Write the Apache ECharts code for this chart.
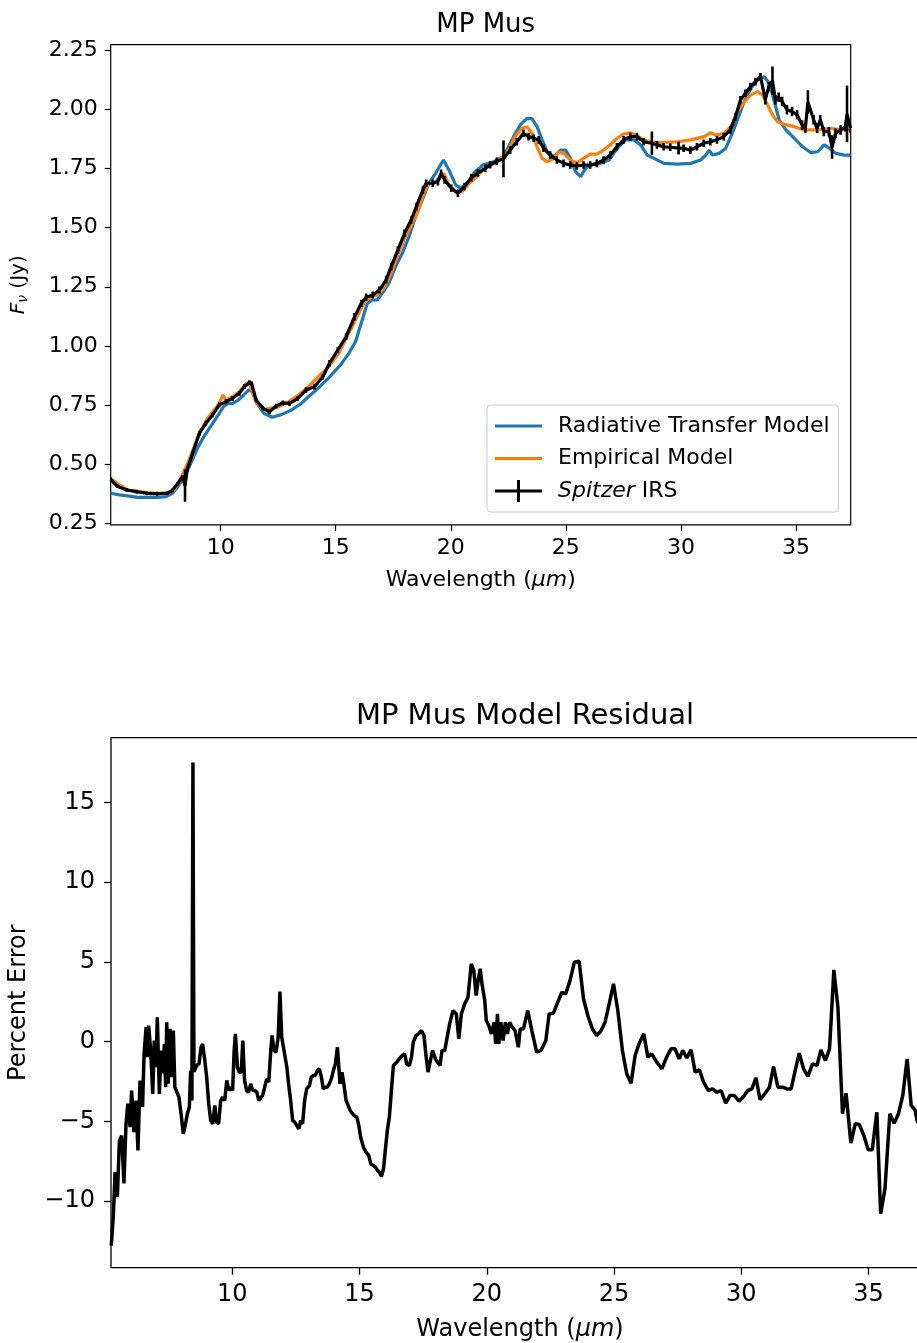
<!DOCTYPE html>
<html>
<head>
<meta charset="utf-8">
<script src="https://cdn.jsdelivr.net/npm/echarts@6/dist/echarts.min.js"></script>
<style>
html,body{margin:0;padding:0;background:#fff;}
#c{width:917px;height:1343px;}
</style>
</head>
<body>
<div id="c"></div>
<script>
// ---------- Top panel: MP Mus spectrum ----------
const rtLam = [5.22,5.6,5.96,6.39,6.83,7.26,7.63,7.91,8.14,8.43,8.73,9.02,9.31,9.6,9.9,10.12,10.33,10.55,10.77,11.0,11.21,11.36,11.58,11.87,12.24,12.6,13.03,13.47,13.9,14.34,14.77,15.21,15.57,15.86,16.15,16.37,16.58,16.8,17.02,17.31,17.6,17.89,18.18,18.47,18.76,19.05,19.34,19.68,19.92,20.21,20.42,20.71,21.0,21.42,21.86,22.29,22.73,23.02,23.31,23.53,23.75,23.97,24.19,24.48,24.77,24.99,25.2,25.42,25.64,25.86,26.08,26.51,26.88,27.24,27.6,27.96,28.25,28.54,28.83,29.27,29.85,30.43,30.86,31.08,31.23,31.37,31.66,31.95,32.17,32.46,32.75,33.04,33.33,33.62,33.84,34.06,34.27,34.56,34.93,35.29,35.65,35.94,36.23,36.45,36.74,37.1,37.38];
const rtFlux = [0.378,0.371,0.367,0.361,0.361,0.361,0.364,0.378,0.406,0.448,0.511,0.574,0.624,0.666,0.709,0.744,0.758,0.758,0.772,0.793,0.814,0.807,0.758,0.716,0.699,0.709,0.727,0.755,0.793,0.831,0.873,0.92,0.969,1.018,1.11,1.18,1.194,1.194,1.222,1.265,1.335,1.391,1.461,1.546,1.617,1.687,1.729,1.785,1.743,1.68,1.666,1.687,1.73,1.765,1.778,1.799,1.884,1.933,1.961,1.96,1.926,1.87,1.82,1.799,1.827,1.827,1.792,1.736,1.715,1.75,1.764,1.771,1.785,1.835,1.87,1.87,1.849,1.806,1.792,1.771,1.768,1.771,1.785,1.806,1.827,1.806,1.813,1.835,1.884,1.955,2.032,2.088,2.123,2.137,2.109,2.032,1.955,1.912,1.877,1.841,1.816,1.82,1.849,1.835,1.813,1.806,1.806];

const empLam = [5.22,5.6,5.96,6.39,6.83,7.26,7.68,7.98,8.27,8.56,8.85,9.14,9.43,9.72,9.94,10.09,10.23,10.52,10.81,11.1,11.25,11.39,11.58,11.87,12.12,12.53,12.95,13.39,13.81,14.25,14.7,15.13,15.57,15.93,16.22,16.51,16.8,17.09,17.38,17.67,17.96,18.25,18.54,18.83,19.05,19.41,19.7,19.92,20.21,20.5,20.8,21.08,21.42,22.0,22.44,22.8,23.09,23.31,23.53,23.75,23.97,24.19,24.48,24.7,24.91,25.2,25.48,25.77,26.06,26.35,26.64,26.93,27.22,27.51,27.8,28.09,28.38,28.83,29.27,29.85,30.43,31.0,31.3,31.52,31.88,32.17,32.46,32.75,33.04,33.33,33.55,33.77,33.98,34.2,34.49,34.93,35.36,35.94,36.52,36.96,37.38];
const empFlux = [0.441,0.413,0.392,0.385,0.381,0.378,0.378,0.392,0.441,0.504,0.574,0.645,0.695,0.73,0.758,0.793,0.772,0.786,0.807,0.842,0.845,0.8,0.758,0.73,0.737,0.744,0.765,0.793,0.828,0.87,0.913,0.969,1.054,1.124,1.18,1.208,1.215,1.243,1.3,1.377,1.447,1.503,1.56,1.645,1.687,1.694,1.729,1.68,1.652,1.652,1.687,1.71,1.745,1.778,1.813,1.884,1.919,1.926,1.898,1.841,1.792,1.778,1.792,1.82,1.813,1.785,1.773,1.792,1.81,1.81,1.827,1.849,1.877,1.895,1.9,1.888,1.87,1.859,1.86,1.862,1.87,1.884,1.9,1.89,1.898,1.926,1.99,2.032,2.06,2.074,2.06,2.018,1.976,1.947,1.936,1.926,1.912,1.912,1.919,1.912,1.912];

const irsLam = [5.22,5.5,5.92,6.35,6.79,7.24,7.68,7.9,8.12,8.34,8.45,8.55,8.78,9.07,9.36,9.65,9.94,10.23,10.52,10.81,11.03,11.25,11.35,11.54,11.83,12.12,12.41,12.7,12.99,13.35,13.71,14.08,14.44,14.73,15.09,15.45,15.82,16.11,16.32,16.61,16.9,17.19,17.41,17.7,17.99,18.28,18.5,18.79,18.93,19.22,19.44,19.58,19.73,20.02,20.31,20.6,20.89,21.18,21.5,21.71,22.0,22.29,22.58,22.87,23.16,23.38,23.6,23.82,24.03,24.32,24.61,24.9,25.19,25.48,25.77,26.06,26.35,26.64,26.93,27.22,27.51,27.8,28.09,28.38,28.74,28.96,29.25,29.54,29.9,30.12,30.41,30.7,30.99,31.28,31.57,31.86,32.15,32.37,32.59,32.8,33.02,33.24,33.46,33.67,33.82,33.98,34.11,34.25,34.4,34.61,34.83,35.05,35.27,35.41,35.52,35.77,35.92,36.06,36.21,36.43,36.57,36.72,36.94,37.15,37.22,37.37];
const irsFlux = [0.436,0.408,0.392,0.385,0.378,0.376,0.379,0.39,0.418,0.447,0.41,0.48,0.547,0.631,0.674,0.709,0.751,0.765,0.779,0.8,0.828,0.845,0.84,0.772,0.737,0.722,0.746,0.76,0.757,0.779,0.814,0.828,0.87,0.927,0.983,1.039,1.124,1.18,1.206,1.215,1.236,1.279,1.335,1.405,1.476,1.532,1.588,1.659,1.687,1.687,1.694,1.729,1.701,1.666,1.645,1.673,1.71,1.73,1.75,1.765,1.78,1.79,1.827,1.862,1.898,1.884,1.877,1.87,1.835,1.806,1.785,1.771,1.764,1.76,1.764,1.764,1.771,1.785,1.806,1.841,1.87,1.884,1.884,1.862,1.856,1.849,1.841,1.839,1.835,1.835,1.827,1.841,1.856,1.862,1.87,1.884,1.912,1.968,2.039,2.067,2.095,2.116,2.137,2.04,2.095,2.12,2.039,2.05,2.032,1.997,1.99,1.976,1.933,1.92,2.03,1.955,1.919,1.955,1.905,1.905,1.84,1.898,1.912,1.926,1.98,1.92];
const irsErr = [0.01,0.008,0.008,0.008,0.008,0.008,0.008,0.008,0.008,0.008,0.068,0.01,0.01,0.01,0.01,0.01,0.01,0.01,0.01,0.01,0.01,0.01,0.01,0.01,0.01,0.01,0.01,0.01,0.01,0.01,0.012,0.012,0.012,0.014,0.014,0.014,0.015,0.015,0.015,0.015,0.015,0.015,0.015,0.016,0.016,0.016,0.016,0.016,0.016,0.016,0.016,0.016,0.016,0.016,0.016,0.016,0.016,0.016,0.016,0.016,0.016,0.078,0.016,0.016,0.016,0.016,0.016,0.016,0.016,0.016,0.016,0.016,0.016,0.016,0.016,0.016,0.016,0.016,0.016,0.016,0.016,0.016,0.016,0.016,0.05,0.016,0.016,0.016,0.027,0.016,0.016,0.016,0.016,0.016,0.016,0.016,0.016,0.016,0.016,0.016,0.016,0.016,0.016,0.02,0.02,0.06,0.02,0.02,0.02,0.02,0.02,0.02,0.02,0.02,0.05,0.02,0.02,0.02,0.02,0.02,0.05,0.02,0.02,0.02,0.12,0.02];

// ---------- Bottom panel: residual ----------
const resLam = [5.24,5.32,5.39,5.48,5.56,5.65,5.74,5.82,5.89,5.98,6.04,6.13,6.21,6.29,6.37,6.47,6.53,6.61,6.66,6.71,6.79,6.87,6.93,7.0,7.05,7.13,7.2,7.26,7.33,7.38,7.42,7.48,7.55,7.61,7.68,7.74,7.81,7.9,8.0,8.07,8.15,8.23,8.31,8.36,8.41,8.45,8.49,8.6,8.69,8.77,8.83,8.91,8.99,9.07,9.15,9.23,9.31,9.38,9.46,9.54,9.62,9.7,9.78,9.86,9.94,10.01,10.07,10.12,10.2,10.27,10.35,10.41,10.48,10.56,10.64,10.72,10.8,10.88,10.96,11.04,11.11,11.19,11.27,11.35,11.43,11.51,11.56,11.64,11.72,11.8,11.87,11.94,12.03,12.14,12.21,12.29,12.37,12.45,12.53,12.61,12.69,12.76,12.84,12.92,13.03,13.1,13.18,13.26,13.34,13.42,13.5,13.57,13.65,13.73,13.81,13.89,13.97,14.05,14.13,14.18,14.23,14.31,14.39,14.47,14.55,14.63,14.7,14.78,14.89,14.97,15.04,15.15,15.25,15.36,15.44,15.54,15.62,15.7,15.78,15.86,15.94,16.01,16.09,16.17,16.25,16.33,16.46,16.56,16.67,16.77,16.85,16.96,17.04,17.11,17.22,17.32,17.43,17.53,17.61,17.69,17.77,17.87,17.98,18.06,18.16,18.24,18.35,18.43,18.54,18.67,18.8,18.9,19.0,19.13,19.26,19.39,19.49,19.58,19.66,19.74,19.81,19.92,19.98,20.08,20.18,20.29,20.35,20.42,20.47,20.55,20.64,20.73,20.81,20.9,21.0,21.11,21.24,21.31,21.44,21.61,21.77,21.96,22.13,22.32,22.45,22.62,22.79,22.95,23.1,23.27,23.44,23.63,23.8,23.97,24.15,24.32,24.49,24.65,24.81,24.98,25.15,25.33,25.5,25.67,25.83,25.98,26.17,26.33,26.48,26.68,26.88,27.07,27.24,27.4,27.56,27.7,27.86,28.03,28.19,28.36,28.52,28.71,28.87,29.04,29.21,29.39,29.56,29.72,29.92,30.09,30.26,30.42,30.58,30.74,30.94,31.11,31.27,31.44,31.62,31.79,31.96,32.12,32.28,32.45,32.62,32.8,32.98,33.13,33.31,33.47,33.54,33.64,33.8,33.98,34.12,34.31,34.48,34.64,34.82,34.99,35.15,35.33,35.48,35.65,35.84,36.01,36.18,36.35,36.52,36.68,36.83,36.91,37.1,37.3];
const resPct = [-12.8,-11.0,-8.19,-9.75,-6.2,-5.9,-8.9,-5.16,-3.9,-5.37,-3.07,-5.68,-3.7,-6.83,-2.44,-4.1,-0.77,0.9,-0.98,1.0,-0.56,-3.28,0.06,-1.6,1.52,-3.28,-0.56,-2.0,-0.15,-2.86,1.21,-2.65,0.8,-2.23,0.69,-2.86,-2.86,-3.49,-4.74,-5.79,-5.26,-4.53,-4.11,-1.82,-3.7,17.5,-1.9,-1.5,-1.4,-0.36,-0.15,-1.1,-2.23,-3.9,-4.95,-5.16,-4.0,-5.05,-5.16,-3.7,-3.49,-3.7,-2.44,-3.07,-2.86,-3.07,-0.56,0.48,-1.6,-1.92,-1.92,0.06,-2.44,-3.07,-3.17,-2.65,-3.07,-3.07,-3.17,-3.7,-3.6,-3.38,-2.86,-2.34,-2.55,-0.56,0.38,-0.56,-0.67,0.27,3.13,0.27,-0.56,-1.6,-2.65,-3.7,-4.95,-5.05,-5.26,-5.47,-4.95,-5.16,-3.7,-2.97,-2.76,-2.23,-2.13,-2.13,-1.82,-1.71,-2.23,-2.97,-2.86,-2.86,-2.65,-2.34,-1.82,-1.4,-0.36,-0.25,-2.65,-1.92,-2.76,-3.7,-4.0,-4.32,-4.43,-4.64,-4.74,-5.26,-5.99,-6.62,-6.93,-7.14,-7.67,-7.77,-7.87,-8.08,-8.19,-8.46,-7.98,-6.83,-5.58,-4.74,-3.07,-1.5,-1.29,-1.09,-0.88,-0.77,-1.4,-1.5,-0.98,-0.04,0.38,0.48,0.69,0.38,-0.88,-1.92,-1.29,-0.56,-1.09,-1.29,-1.5,-0.56,-0.56,0.17,1.11,1.94,1.73,0.17,1.73,2.36,2.78,4.87,4.45,2.88,3.82,4.56,3.62,2.57,1.32,1.0,0.48,1.21,-0.15,1.73,-0.15,1.21,0.06,1.21,0.48,1.21,0.9,0.69,-0.36,0.79,0.79,1.94,0.69,-0.67,-0.56,0.06,1.73,1.78,2.47,3.09,2.99,3.82,4.97,5.03,2.68,1.63,0.79,0.38,0.69,1.21,2.36,3.62,1.94,-0.56,-2.02,-2.61,-0.88,-0.15,0.48,-0.98,-0.77,-1.29,-1.71,-0.98,-0.46,-0.46,-1.09,-0.56,-1.02,-0.52,-1.92,-1.78,-2.55,-3.07,-2.97,-3.18,-3.07,-3.87,-3.38,-3.38,-3.74,-3.45,-3.07,-2.97,-2.27,-3.65,-3.24,-2.86,-1.57,-2.86,-2.86,-2.97,-2.97,-1.82,-0.73,-1.71,-2.19,-1.4,-1.5,-0.52,-1.19,-0.46,1.52,4.49,2.15,-4.53,-3.24,-6.37,-5.16,-5.2,-5.89,-6.79,-6.79,-4.43,-10.8,-9.23,-4.53,-5.12,-4.53,-3.38,-1.09,-4.01,-4.28,-4.95,-5.6,-4.5];

// tick labels
const topXTicks = [10,15,20,25,30,35];
const topYTicks = [0.25,0.5,0.75,1.0,1.25,1.5,1.75,2.0,2.25];
const botXTicks = [10,15,20,25,30,35];
const botYTicks = [-10,-5,0,5,10,15];

const FONT = 'DejaVu Sans';
const zip = (a, b) => a.map((v, i) => [v, b[i]]);
const minus = v => (v < 0 ? '\u2212' + Math.abs(v) : String(v));

const chart = echarts.init(document.getElementById('c'), null, {renderer: 'canvas'});

const lineIcon = 'path://M0,0 L0.01,0 L0,0.01 Z M0,9.6 H47 V12.4 H0 Z M0,22 L0.01,22 L0,21.99 Z';
const errIcon = 'path://M0,0 L0.01,0 L0,0.01 Z M0,9.6 H47 V12.4 H0 Z M22,0 H25 V22 H22 Z';

function errRender(params, api) {
  const x = api.value(0);
  const p1 = api.coord([x, api.value(1)]);
  const p2 = api.coord([x, api.value(2)]);
  return {type: 'line', shape: {x1: p1[0], y1: p1[1], x2: p2[0], y2: p2[1]},
          style: {stroke: '#000', lineWidth: 2.6}};
}

const option = {
  animation: false,
  backgroundColor: '#fff',
  textStyle: {fontFamily: FONT, color: '#000'},
  title: [
    {text: 'MP Mus', left: 480.7, textAlign: 'center', top: 7,
     textStyle: {fontFamily: FONT, fontSize: 26, fontWeight: 'normal', color: '#000'}},
    {text: 'MP Mus Model Residual', left: 520, textAlign: 'center', top: 697,
     textStyle: {fontFamily: FONT, fontSize: 29, fontWeight: 'normal', color: '#000'}}
  ],
  legend: {
    orient: 'vertical', left: 487, top: 405,
    padding: [10, 9, 10, 8], itemGap: 10.5, itemWidth: 47, itemHeight: 22,
    backgroundColor: 'rgba(255,255,255,0.8)', borderColor: '#cccccc', borderWidth: 1, borderRadius: 4,
    textStyle: {fontFamily: FONT, fontSize: 22, color: '#000', padding: [0, 0, 0, 11],
      rich: {it: {fontFamily: FONT, fontSize: 22, fontStyle: 'italic', color: '#000'}}},
    formatter: n => n === 'Spitzer IRS' ? '{it|Spitzer} IRS' : n,
    data: [
      {name: 'Radiative Transfer Model', icon: lineIcon, itemStyle: {color: '#1f77b4'}},
      {name: 'Empirical Model', icon: lineIcon, itemStyle: {color: '#ff7f0e'}},
      {name: 'Spitzer IRS', icon: errIcon, itemStyle: {color: '#000'}}
    ]
  },
  grid: [
    {left: 110.7, top: 44.7, width: 740, height: 480.2, outerBoundsMode: 'none',
     show: true, borderColor: '#000', borderWidth: 1.2, backgroundColor: 'transparent'},
    {left: 111, top: 737.7, width: 818, height: 530, outerBoundsMode: 'none',
     show: true, borderColor: '#000', borderWidth: 1.3, backgroundColor: 'transparent'}
  ],
  xAxis: [
    {type: 'value', gridIndex: 0, min: 5.22, max: 37.38,
     name: 'Wavelength ({it|μm})', nameLocation: 'middle', nameGap: 44,
     nameTextStyle: {fontFamily: FONT, fontSize: 22, color: '#000', verticalAlign: 'top',
       rich: {it: {fontFamily: FONT, fontSize: 22, fontStyle: 'italic', color: '#000'}}},
     splitLine: {show: false}, axisLine: {show: false, onZero: false},
     axisTick: {show: true, length: 6, customValues: topXTicks, lineStyle: {color: '#000', width: 1.2}},
     axisLabel: {customValues: topXTicks, margin: 12, fontFamily: FONT, fontSize: 22, color: '#000'}},
    {type: 'value', gridIndex: 1, min: 5.23, max: 37.38,
     name: 'Wavelength ({it|μm})', nameLocation: 'middle', nameGap: 50,
     nameTextStyle: {fontFamily: FONT, fontSize: 24, color: '#000', verticalAlign: 'top',
       rich: {it: {fontFamily: FONT, fontSize: 24, fontStyle: 'italic', color: '#000'}}},
     splitLine: {show: false}, axisLine: {show: false, onZero: false},
     axisTick: {show: true, length: 7, customValues: botXTicks, lineStyle: {color: '#000', width: 1.3}},
     axisLabel: {customValues: botXTicks, margin: 15, fontFamily: FONT, fontSize: 24, color: '#000'}}
  ],
  yAxis: [
    {type: 'value', gridIndex: 0, min: 0.2445, max: 2.272,
     name: '{it|F}{sub|ν} (Jy)', nameLocation: 'middle', nameGap: 80, nameRotate: 90,
     nameTextStyle: {fontFamily: FONT, fontSize: 20, color: '#000',
       rich: {it: {fontFamily: FONT, fontSize: 20, fontStyle: 'italic', color: '#000'},
              sub: {fontFamily: FONT, fontSize: 14, fontStyle: 'italic', color: '#000', padding: [10, 0, 0, 0]}}},
     splitLine: {show: false}, axisLine: {show: false, onZero: false},
     axisTick: {show: true, length: 6, customValues: topYTicks, lineStyle: {color: '#000', width: 1.2}},
     axisLabel: {customValues: topYTicks, margin: 13, fontFamily: FONT, fontSize: 22, color: '#000',
       formatter: v => v.toFixed(2)}},
    {type: 'value', gridIndex: 1, min: -14.18, max: 19.05,
     name: 'Percent Error', nameLocation: 'middle', nameGap: 80, nameRotate: 90,
     nameTextStyle: {fontFamily: FONT, fontSize: 24, color: '#000'},
     splitLine: {show: false}, axisLine: {show: false, onZero: false},
     axisTick: {show: true, length: 7, customValues: botYTicks, lineStyle: {color: '#000', width: 1.3}},
     axisLabel: {customValues: botYTicks, margin: 16, fontFamily: FONT, fontSize: 24, color: '#000',
       formatter: minus}}
  ],
  series: [
    {name: 'Radiative Transfer Model', type: 'line', xAxisIndex: 0, yAxisIndex: 0,
     data: zip(rtLam, rtFlux), showSymbol: false, symbol: 'none',
     lineStyle: {color: '#1f77b4', width: 3.2}, itemStyle: {color: '#1f77b4'}, z: 2},
    {name: 'Empirical Model', type: 'line', xAxisIndex: 0, yAxisIndex: 0,
     data: zip(empLam, empFlux), showSymbol: false, symbol: 'none',
     lineStyle: {color: '#ff7f0e', width: 3.2}, itemStyle: {color: '#ff7f0e'}, z: 3},
    {name: 'Spitzer IRS', type: 'line', xAxisIndex: 0, yAxisIndex: 0,
     data: zip(irsLam, irsFlux), showSymbol: false, symbol: 'none',
     lineStyle: {color: '#000', width: 3.2}, itemStyle: {color: '#000'}, z: 4},
    {name: 'Spitzer IRS', type: 'custom', xAxisIndex: 0, yAxisIndex: 0,
     data: irsLam.map((l, i) => [l, irsFlux[i] - irsErr[i], irsFlux[i] + irsErr[i]]),
     encode: {x: 0, y: [1, 2]}, renderItem: errRender, z: 5, clip: true},
    {name: 'Residual', type: 'line', xAxisIndex: 1, yAxisIndex: 1,
     data: zip(resLam, resPct), showSymbol: false, symbol: 'none',
     lineStyle: {color: '#000', width: 3.5}, itemStyle: {color: '#000'}}
  ]
};
chart.setOption(option);
</script>
</body>
</html>
